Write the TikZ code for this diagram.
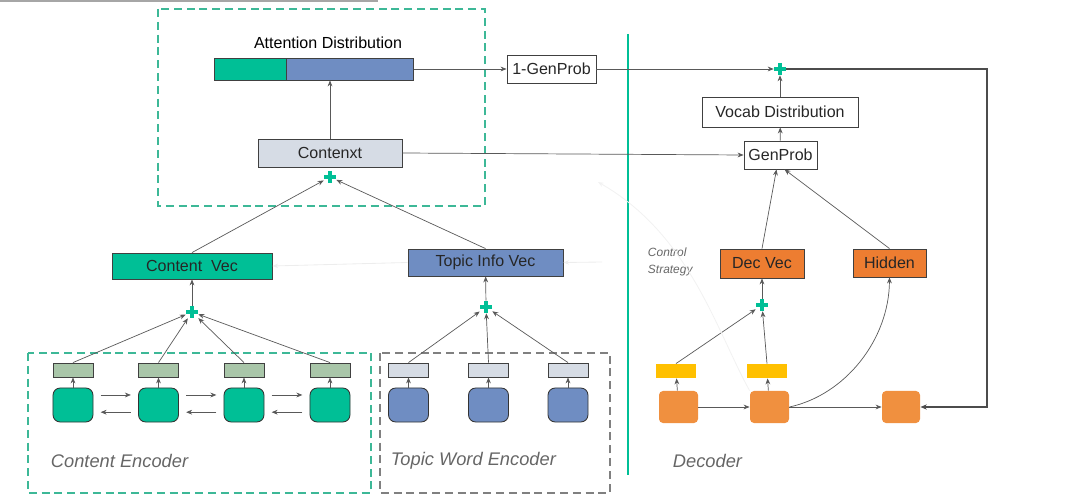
\documentclass[tikz,border=0pt]{standalone}
\usepackage{fontspec}
\setmainfont{Liberation Sans}
\usetikzlibrary{arrows.meta}
\definecolor{tealg}{HTML}{00BF96}
\definecolor{dashg}{HTML}{3DB897}
\definecolor{bluev}{HTML}{6F8DC2}
\definecolor{paleb}{HTML}{D6DCE5}
\definecolor{sage}{HTML}{A9C6A9}
\definecolor{orng}{HTML}{ED7D31}
\definecolor{orngl}{HTML}{F0903F}
\definecolor{ylw}{HTML}{FFC000}
\definecolor{lgray}{HTML}{595959}

\begin{document}
\begin{tikzpicture}[x=0.025cm,y=-0.025cm,
  arr/.style={draw=lgray, line width=0.5pt, -{Stealth[length=1.5mm,width=1.2mm]}},
  faint/.style={draw=black!7, line width=0.6pt, -{Stealth[length=1.4mm,width=1.1mm]}},
  box/.style={draw=black!75, line width=0.6pt, inner sep=0pt, font=\fontsize{11.4}{13}\selectfont, text=black!85},
  cell/.style={draw=black!80, line width=0.6pt, rounded corners=1.8mm, minimum width=1cm, minimum height=0.85cm},
  bar/.style={draw=black!75, line width=0.6pt, minimum width=1cm, minimum height=0.35cm, inner sep=0pt},
  plus/.style={minimum size=0.3cm, inner sep=0pt, path picture={\draw[tealg, line width=2.5pt] (path picture bounding box.north) -- (path picture bounding box.south) (path picture bounding box.west) -- (path picture bounding box.east);}},
  region/.style={line width=1.2pt, dash pattern=on 2mm off 1.2mm},
  caption/.style={font=\fontsize{13}{15}\selectfont\itshape, text=black!60, anchor=west}]
	\useasboundingbox (0,0) rectangle (1080,504);
	\draw [black!35, line width=1.2pt] (0,1) -- (378,1);

	% regions
	\draw [region, dashg] (158,9) rectangle (485,206);
	\draw [region, dashg] (28,353) rectangle (371,493);
	\draw [region, black!50] (380,353) rectangle (610,493);
	\draw [tealg, line width=1.4pt] (628,34) -- (628,475);
	\node [caption] (capce) at (46,461) {Content Encoder};
	\node [caption] (captw) at (386,461) {Topic Word Encoder};
	\node [caption] (capdec) at (668,461) {Decoder};

	% attention part
	\node [font=\fontsize{11.4}{13}\selectfont] (attlabel) at (328,43) {Attention Distribution};
	\node [box, fill=tealg, minimum width=1.8cm, minimum height=0.55cm] (attg) at (250,69) {};
	\node [box, fill=bluev, minimum width=3.175cm, minimum height=0.55cm, anchor=west] (attb) at (attg.east) {};
	\node [box, fill=paleb, minimum width=3.6cm, minimum height=0.7cm] (ctx) at (330,153) {Contenxt};
	\node [plus] (pctx) at (330,177) {};
	\node [box, minimum width=2.225cm, minimum height=0.7cm] (onegp) at (551.5,69) {1-GenProb};

	% encoder outputs
	\node [box, fill=tealg, minimum width=4cm, minimum height=0.65cm] (cvec) at (192,266) {Content~ Vec};
	\node [box, fill=bluev, minimum width=3.875cm, minimum height=0.675cm] (tvec) at (485.5,262.5) {Topic Info Vec};
	\node [plus] (pcv) at (192,312) {};
	\node [plus] (ptv) at (486,307) {};

	% content encoder
	\foreach \i/\x in {1/73,2/158.5,3/244,4/330}{
		\node [bar, fill=sage] (cs\i) at (\x,370) {};
		\node [cell, fill=tealg] (cn\i) at (\x,405) {};
		\draw [arr] (cn\i) -- (cs\i);
		\draw [arr] (cs\i.north) -- (pcv);
	}
	\foreach \i/\j in {1/2,2/3,3/4}{
		\draw [arr] ([xshift=1.8mm,yshift=2.5mm]cn\i.east) -- ([xshift=-1.8mm,yshift=2.5mm]cn\j.west);
		\draw [arr] ([xshift=-1.8mm,yshift=-1.8mm]cn\j.west) -- ([xshift=1.8mm,yshift=-1.8mm]cn\i.east);
	}

	% topic word encoder
	\foreach \i/\x in {1/408.5,2/488.5,3/568}{
		\node [bar, fill=paleb] (ts\i) at (\x,370) {};
		\node [cell, fill=bluev] (tn\i) at (\x,405) {};
		\draw [arr] (tn\i) -- (ts\i);
		\draw [arr] (ts\i.north) -- (ptv);
	}

	\draw [arr] (pcv) -- (cvec);
	\draw [arr] (ptv) -- (tvec);
	\draw [arr] (cvec.north) -- (pctx);
	\draw [arr] (tvec.north) -- (pctx);
	\draw [arr] (ctx) -- (attb.south -| ctx);

	% decoder
	\node [box, minimum width=3.9cm, minimum height=0.75cm] (vocab) at (780,112) {Vocab Distribution};
	\node [box, minimum width=1.825cm, minimum height=0.7cm] (gp) at (780.5,155) {GenProb};
	\node [plus] (pout) at (780,69) {};
	\node [box, fill=orng, minimum width=2.1cm, minimum height=0.725cm] (dvec) at (762,263.5) {Dec Vec};
	\node [box, fill=orng, minimum width=1.825cm, minimum height=0.7cm] (hid) at (889.5,263) {Hidden};
	\node [plus] (pdv) at (762,305) {};
	\node [font=\fontsize{8.5}{12}\selectfont\itshape, text=black!60, align=left, anchor=west] (ctrl) at (643,262) {Control\\Strategy};
	\node [bar, draw=none, fill=ylw] (db1) at (676,371) {};
	\node [bar, draw=none, fill=ylw] (db2) at (767,371) {};
	\node [cell, draw=none, fill=orngl, minimum width=0.975cm, minimum height=0.8cm, rounded corners=1mm] (dn1) at (678.5,407) {};
	\node [cell, draw=none, fill=orngl, minimum width=0.975cm, minimum height=0.8cm, rounded corners=1mm] (dn2) at (769.5,407) {};
	\node [cell, draw=none, fill=orngl, minimum width=0.95cm, minimum height=0.8cm, rounded corners=1mm] (dn3) at (901,407) {};
	\coordinate (loopc) at (987,69);

	\draw [arr] (dn1) -- (db1);
	\draw [arr] (dn2) -- (db2);
	\draw [arr] (db1.north) -- (pdv);
	\draw [arr] (db2.north) -- (pdv);
	\draw [arr] (pdv) -- (dvec);
	\draw [arr] (dvec.north) -- ([xshift=-1mm]gp.south);
	\draw [arr] (hid.north) -- ([xshift=1mm]gp.south);
	\draw [arr] (dn1.east) -- (dn2.west);
	\draw [arr] (dn2.east) -- (dn3.west);
	\draw [arr] (dn2.east) .. controls (845,395) and (889,340) .. (hid.south);
	\draw [arr] (gp) -- (vocab);
	\draw [arr] (vocab) -- (pout);
	\draw [arr] (attb.east) -- (onegp.west);
	\draw [arr] (onegp.east) -- (pout.west);
	\draw [arr] (ctx.east) -- (gp.west);
	\draw [line width=1.3pt, draw=black!70, -{Stealth[length=1.6mm,width=1.3mm]}] (pout.east) -- (loopc) |- (dn3.east);

	% control strategy (faint)
	\draw [faint] (tvec.west) -- (cvec.east);
	\draw [faint] (602,262) -- (tvec.east);
	\draw [faint, draw=black!5] (dn2.north west) .. controls (716,330) and (690,235) .. (598,182);
\end{tikzpicture}
\end{document}
